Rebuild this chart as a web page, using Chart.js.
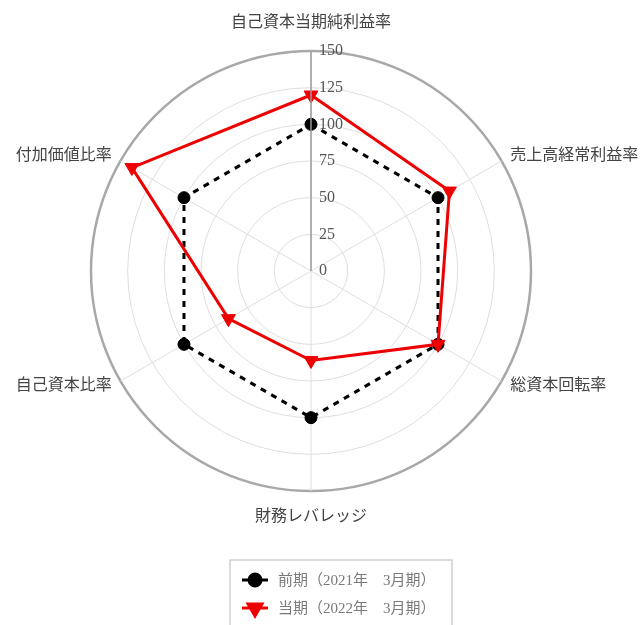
<!DOCTYPE html>
<html>
<head>
<meta charset="utf-8">
<script src="https://cdn.jsdelivr.net/npm/chart.js@4.4.1/dist/chart.umd.min.js"></script>
<style>
  html, body { margin: 0; padding: 0; background: #fff; }
  #wrap { width: 644px; height: 625px; overflow: hidden; }
</style>
</head>
<body>
<div id="wrap"><canvas id="myChart" width="644" height="625"></canvas></div>
<script>
// 軸ラベル
const categories = ['自己資本当期純利益率', '売上高経常利益率', '総資本回転率', '財務レバレッジ', '自己資本比率', '付加価値比率'];
const tickValues = [0, 25, 50, 75, 100, 125, 150];
const seriesNames = ['前期（2021年　3月期）', '当期（2022年　3月期）'];
const prevValues = [100, 100, 100, 100, 100, 100];
const currValues = [120, 109, 100, 61, 65, 141];

const FONT = '"Liberation Serif", "Noto Sans CJK JP", serif';
const RED = 'rgb(238, 0, 0)';

// 目盛り・項目名・凡例を描く
const decorPlugin = {
    id: 'decor',
    afterDatasetsDraw(chart) {
        const ctx = chart.ctx;
        const r = chart.scales.r;
        const cx = r.xCenter, cy = r.yCenter, R = r.drawingArea;
        ctx.save();
        // 上向きの軸線
        ctx.strokeStyle = '#9a9a9a';
        ctx.lineWidth = 1.5;
        ctx.beginPath();
        ctx.moveTo(cx, cy);
        ctx.lineTo(cx, cy - R);
        ctx.stroke();
        // 目盛り
        ctx.font = '16px ' + FONT;
        ctx.fillStyle = '#555';
        ctx.textAlign = 'left';
        ctx.textBaseline = 'middle';
        tickValues.forEach(v => {
            ctx.fillText(String(v), cx + 8, cy - r.getDistanceFromCenterForValue(v));
        });
        // 項目名
        ctx.fillStyle = '#444';
        categories.forEach((lab, i) => {
            const p = r.getPointPosition(i, R + 10);
            let x = p.x, y = p.y;
            if (Math.abs(p.x - cx) < 1) {
                ctx.textAlign = 'center';
                y = p.y < cy ? cy - R - 28 : cy + R + 26;
            } else {
                ctx.textAlign = p.x > cx ? 'left' : 'right';
            }
            ctx.fillText(lab, x, y);
        });
        // 凡例
        ctx.strokeStyle = '#cfcfcf';
        ctx.lineWidth = 1.5;
        ctx.strokeRect(230, 560, 222, 80);
        ctx.font = '15px ' + FONT;
        ctx.textAlign = 'left';
        chart.data.datasets.forEach((ds, i) => {
            const y = 580 + i * 28;
            ctx.strokeStyle = ds.borderColor;
            ctx.fillStyle = ds.borderColor;
            ctx.lineWidth = 3;
            ctx.setLineDash([]);
            ctx.beginPath();
            ctx.moveTo(242, y);
            ctx.lineTo(268, y);
            ctx.stroke();
            Chart.helpers.drawPoint(ctx, {
                pointStyle: ds.pointStyle,
                rotation: ds.pointRotation || 0,
                radius: ds.pointRadius,
                borderWidth: 1
            }, 255, y);
            ctx.fillStyle = '#7a7a7a';
            ctx.fillText(ds.label, 278, y + 1);
        });
        ctx.restore();
    }
};

const data = {
    labels: categories,
    datasets: [
        {
            label: seriesNames[0],
            data: prevValues,
            borderColor: '#000',
            backgroundColor: '#000',
            borderWidth: 3,
            borderDash: [6, 6],
            pointStyle: 'circle',
            pointRadius: 6,
            pointBorderWidth: 1,
            pointBackgroundColor: '#000',
            fill: false,
            order: 1
        },
        {
            label: seriesNames[1],
            data: currValues,
            borderColor: RED,
            backgroundColor: RED,
            borderWidth: 3,
            pointStyle: 'triangle',
            pointRotation: 180,
            pointRadius: 8,
            pointBorderWidth: 1,
            pointBackgroundColor: RED,
            fill: false,
            order: 0
        }
    ]
};

const config = {
    type: 'radar',
    data: data,
    options: {
        responsive: false,
        animation: false,
        layout: { padding: { left: 91, right: 113, top: 51, bottom: 134 } },
        plugins: { legend: { display: false }, tooltip: { enabled: false } },
        elements: { line: { tension: 0 } },
        scales: {
            r: {
                min: 0,
                max: 150,
                ticks: { display: false, stepSize: 25 },
                pointLabels: { display: false },
                angleLines: { color: '#dedede', lineWidth: 1 },
                grid: {
                    circular: true,
                    color: c => (c.tick && c.tick.value === 150 ? '#a8a8a8' : '#dedede'),
                    lineWidth: c => (c.tick && c.tick.value === 150 ? 2.5 : 1)
                }
            }
        }
    },
    plugins: [decorPlugin]
};

var myChart = new Chart(document.getElementById('myChart'), config);
</script>
</body>
</html>
